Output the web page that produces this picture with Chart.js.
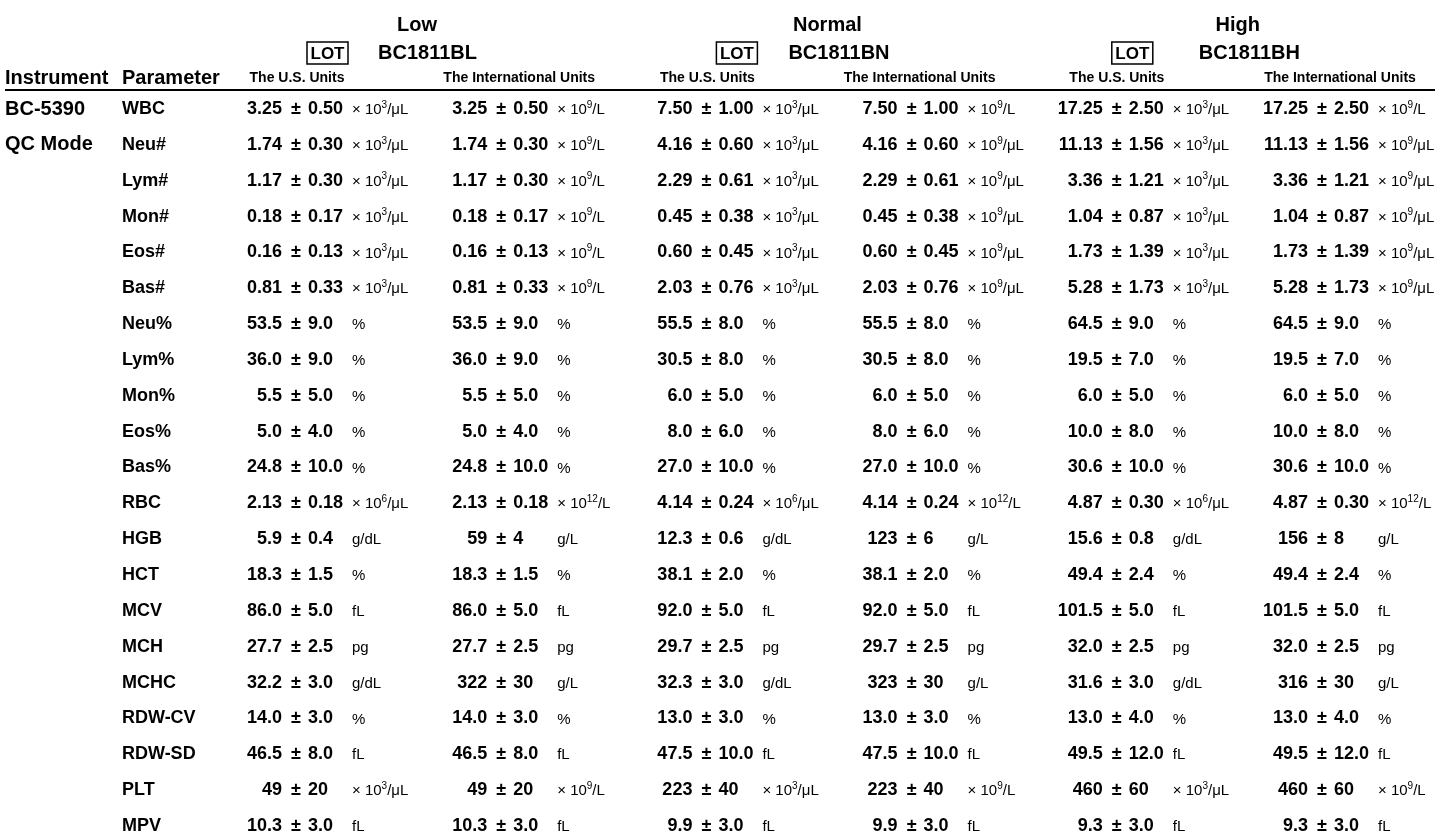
<!DOCTYPE html>
<html>
<head>
<meta charset="utf-8">
<script src="https://cdn.jsdelivr.net/npm/chart.js@4.4.1/dist/chart.umd.min.js"></script>
<style>
  html, body { margin: 0; padding: 0; background: #ffffff; }
  #wrap { width: 1440px; height: 838px; position: relative; }
</style>
</head>
<body>
<div id="wrap"><canvas id="qc"></canvas></div>
<script>
// ---------- data ----------
const instrumentLabels = ['BC-5390', 'QC Mode'];
const parameters = ['WBC','Neu#','Lym#','Mon#','Eos#','Bas#','Neu%','Lym%','Mon%','Eos%','Bas%',
                    'RBC','HGB','HCT','MCV','MCH','MCHC','RDW-CV','RDW-SD','PLT','MPV'];
const levels = ['Low', 'Normal', 'High'];
const lotNumbers = ['BC1811BL', 'BC1811BN', 'BC1811BH'];
const unitSystems = ['The U.S. Units', 'The International Units'];

const usDecimals   = [2,2,2,2,2,2,1,1,1,1,1,2,1,1,1,1,1,1,1,0,1];
const intlDecimals = [2,2,2,2,2,2,1,1,1,1,1,2,0,1,1,1,0,1,1,0,1];

const usUnits = ['× 10^3/μL','× 10^3/μL','× 10^3/μL','× 10^3/μL','× 10^3/μL','× 10^3/μL',
                 '%','%','%','%','%','× 10^6/μL','g/dL','%','fL','pg','g/dL','%','fL','× 10^3/μL','fL'];
const lowIntlUnits = ['× 10^9/L','× 10^9/L','× 10^9/L','× 10^9/L','× 10^9/L','× 10^9/L',
                 '%','%','%','%','%','× 10^12/L','g/L','%','fL','pg','g/L','%','fL','× 10^9/L','fL'];
const normalIntlUnits = ['× 10^9/L','× 10^9/μL','× 10^9/μL','× 10^9/μL','× 10^9/μL','× 10^9/μL',
                 '%','%','%','%','%','× 10^12/L','g/L','%','fL','pg','g/L','%','fL','× 10^9/L','fL'];
const highIntlUnits = ['× 10^9/L','× 10^9/μL','× 10^9/μL','× 10^9/μL','× 10^9/μL','× 10^9/μL',
                 '%','%','%','%','%','× 10^12/L','g/L','%','fL','pg','g/L','%','fL','× 10^9/L','fL'];

const lowUSMean   = [3.25,1.74,1.17,0.18,0.16,0.81,53.5,36.0,5.5,5.0,24.8,2.13,5.9,18.3,86.0,27.7,32.2,14.0,46.5,49,10.3];
const lowUSSD     = [0.50,0.30,0.30,0.17,0.13,0.33,9.0,9.0,5.0,4.0,10.0,0.18,0.4,1.5,5.0,2.5,3.0,3.0,8.0,20,3.0];
const lowIntlMean = [3.25,1.74,1.17,0.18,0.16,0.81,53.5,36.0,5.5,5.0,24.8,2.13,59,18.3,86.0,27.7,322,14.0,46.5,49,10.3];
const lowIntlSD   = [0.50,0.30,0.30,0.17,0.13,0.33,9.0,9.0,5.0,4.0,10.0,0.18,4,1.5,5.0,2.5,30,3.0,8.0,20,3.0];

const normalUSMean   = [7.50,4.16,2.29,0.45,0.60,2.03,55.5,30.5,6.0,8.0,27.0,4.14,12.3,38.1,92.0,29.7,32.3,13.0,47.5,223,9.9];
const normalUSSD     = [1.00,0.60,0.61,0.38,0.45,0.76,8.0,8.0,5.0,6.0,10.0,0.24,0.6,2.0,5.0,2.5,3.0,3.0,10.0,40,3.0];
const normalIntlMean = [7.50,4.16,2.29,0.45,0.60,2.03,55.5,30.5,6.0,8.0,27.0,4.14,123,38.1,92.0,29.7,323,13.0,47.5,223,9.9];
const normalIntlSD   = [1.00,0.60,0.61,0.38,0.45,0.76,8.0,8.0,5.0,6.0,10.0,0.24,6,2.0,5.0,2.5,30,3.0,10.0,40,3.0];

const highUSMean   = [17.25,11.13,3.36,1.04,1.73,5.28,64.5,19.5,6.0,10.0,30.6,4.87,15.6,49.4,101.5,32.0,31.6,13.0,49.5,460,9.3];
const highUSSD     = [2.50,1.56,1.21,0.87,1.39,1.73,9.0,7.0,5.0,8.0,10.0,0.30,0.8,2.4,5.0,2.5,3.0,4.0,12.0,60,3.0];
const highIntlMean = [17.25,11.13,3.36,1.04,1.73,5.28,64.5,19.5,6.0,10.0,30.6,4.87,156,49.4,101.5,32.0,316,13.0,49.5,460,9.3];
const highIntlSD   = [2.50,1.56,1.21,0.87,1.39,1.73,9.0,7.0,5.0,8.0,10.0,0.30,8,2.4,5.0,2.5,30,4.0,12.0,60,3.0];

// ---------- assemble columns ----------
const columnKeys = levels.flatMap(l => unitSystems.map(s => l + ' · ' + s));
const columns = [
  { mean: lowUSMean,      sd: lowUSSD,      dec: usDecimals,   units: usUnits },
  { mean: lowIntlMean,    sd: lowIntlSD,    dec: intlDecimals, units: lowIntlUnits },
  { mean: normalUSMean,   sd: normalUSSD,   dec: usDecimals,   units: usUnits },
  { mean: normalIntlMean, sd: normalIntlSD, dec: intlDecimals, units: normalIntlUnits },
  { mean: highUSMean,     sd: highUSSD,     dec: usDecimals,   units: usUnits },
  { mean: highIntlMean,   sd: highIntlSD,   dec: intlDecimals, units: highIntlUnits }
];

const FAMILY = '"Liberation Sans", Arial, Helvetica, sans-serif';
const fBold = s => 'bold ' + s + 'px ' + FAMILY;
const fReg = s => s + 'px ' + FAMILY;

function drawUnit(ctx, text, x, y) {
  const m = text.match(/^(.*?)\^(\d+)(.*)$/);
  ctx.textAlign = 'left';
  ctx.font = fReg(15);
  if (!m) { ctx.fillText(text, x, y + 1); return; }
  ctx.fillText(m[1], x, y + 1);
  let cx = x + ctx.measureText(m[1]).width;
  ctx.font = fReg(10);
  ctx.fillText(m[2], cx, y - 4);
  cx += ctx.measureText(m[2]).width;
  ctx.font = fReg(15);
  ctx.fillText(m[3], cx, y + 1);
}

const tablePlugin = {
  id: 'qcTable',
  afterDatasetsDraw(chart) {
    const { ctx, chartArea, scales: { x, y } } = chart;
    const top = chartArea.top;
    ctx.save();
    ctx.fillStyle = '#000';
    ctx.strokeStyle = '#000';
    ctx.textBaseline = 'middle';

    // level headers with LOT box
    const lotBoxShift = [25, 24, 9];
    levels.forEach((lv, g) => {
      const xa = x.getPixelForValue(g * 2);
      ctx.font = fBold(20);
      ctx.textAlign = 'center';
      ctx.fillText(lv, xa + 135, top - 84);
      ctx.textAlign = 'left';
      ctx.fillText(lotNumbers[g], xa + 96, top - 56);
      const bx = xa + lotBoxShift[g];
      ctx.lineWidth = 1.5;
      ctx.strokeRect(bx, top - 67, 41, 22);
      ctx.font = fBold(17);
      ctx.textAlign = 'center';
      ctx.fillText('LOT', bx + 20.5, top - 55);
    });

    // unit system headers
    const headerShift = [15, 32, 15, 22, 14, 32];
    ctx.font = fBold(14);
    ctx.textAlign = 'center';
    columnKeys.forEach((k, c) => {
      const xc = x.getPixelForValue(c);
      ctx.fillText(unitSystems[c % 2], xc + headerShift[c], top - 31);
    });

    // left headers
    ctx.font = fBold(20);
    ctx.textAlign = 'left';
    ctx.fillText('Instrument', 5, top - 31);
    ctx.fillText('Parameter', y.left, top - 31);

    // rule
    ctx.lineWidth = 2;
    ctx.beginPath();
    ctx.moveTo(5, top - 19);
    ctx.lineTo(chart.width - 5, top - 19);
    ctx.stroke();

    // instrument labels
    ctx.font = fBold(20);
    instrumentLabels.forEach((t, i) => ctx.fillText(t, 5, y.getPixelForValue(i)));

    // cells
    chart.data.datasets.forEach((ds, d) => {
      const meta = chart.getDatasetMeta(d);
      meta.data.forEach((el, i) => {
        const px = el.x, py = el.y;
        const col = columns[d];
        const dec = col.dec[i];
        ctx.font = fBold(18);
        ctx.textAlign = 'right';
        ctx.fillText(col.mean[i].toFixed(dec), px, py);
        ctx.textAlign = 'center';
        ctx.fillText('±', px + 14, py);
        ctx.textAlign = 'left';
        ctx.fillText(col.sd[i].toFixed(dec), px + 26, py);
        drawUnit(ctx, col.units[i], px + 70, py);
      });
    });
    ctx.restore();
  }
};

const datasets = columns.map((col, c) => ({
  label: columnKeys[c],
  data: parameters.map(p => ({ x: columnKeys[c], y: p })),
  pointRadius: 0,
  pointHoverRadius: 0,
  showLine: false
}));

new Chart(document.getElementById('qc'), {
  type: 'scatter',
  data: { datasets },
  options: {
    responsive: true,
    maintainAspectRatio: false,
    animation: false,
    events: [],
    layout: { padding: { left: 122, right: 132, top: 109, bottom: 12 } },
    plugins: { legend: { display: false }, tooltip: { enabled: false } },
    scales: {
      x: {
        type: 'category',
        labels: columnKeys,
        offset: false,
        display: false
      },
      y: {
        type: 'category',
        labels: parameters,
        offset: false,
        position: 'left',
        grid: { display: false, drawTicks: false },
        border: { display: false },
        ticks: {
          crossAlign: 'far',
          padding: 0,
          autoSkip: false,
          color: '#000',
          font: { family: FAMILY, size: 18, weight: 'bold' }
        },
        afterFit: s => { s.width = 160; }
      }
    }
  },
  plugins: [tablePlugin]
});
</script>
</body>
</html>
